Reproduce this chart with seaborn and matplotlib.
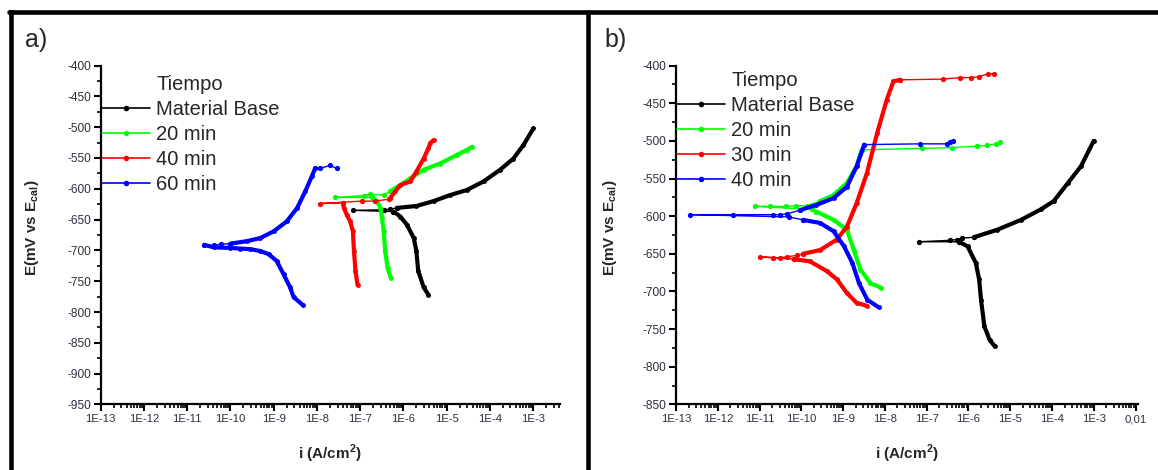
import matplotlib
matplotlib.use("Agg")
import matplotlib.pyplot as plt
import seaborn as sns
from matplotlib.lines import Line2D
from matplotlib.ticker import FixedLocator, FixedFormatter, LogLocator, MultipleLocator, NullFormatter

# ---------------- data ----------------
# Panel a)
a_base_cath_i = [3.8e-6, 2.95e-6, 2.2e-6, 2.0e-6, 1.74e-6, 1.2e-6, 8.5e-7, 5.9e-7]
a_base_cath_E = [-772, -760, -733, -701, -680, -658, -645, -637]
a_base_flat_i = [5.9e-7, 6.8e-8, 3.5e-7, 5.0e-7, 7.1e-7]
a_base_flat_E = [-637, -635, -634, -633, -631]
a_base_anod_i = [7.1e-7, 2.0e-6, 5.0e-6, 1.23e-5, 2.95e-5, 7.2e-5, 1.74e-4, 3.5e-4, 6.0e-4, 1.02e-3]
a_base_anod_E = [-631, -628, -620, -610, -602, -588, -569, -551, -529, -502]

a_20_cath_i = [5.1e-7, 4.3e-7, 3.8e-7, 3.5e-7, 3.2e-7, 2.95e-7, 2.45e-7, 1.86e-7]
a_20_cath_E = [-745, -728, -701, -669, -647, -631, -620, -614]
a_20_flat_i = [1.86e-7, 2.6e-8, 1.2e-7, 1.7e-7, 3.5e-7, 5.0e-7]
a_20_flat_E = [-614, -614, -611, -609, -610, -604]
a_20_anod_i = [5.0e-7, 8.5e-7, 1.45e-6, 2.95e-6, 7.1e-6, 1.74e-5, 2.95e-5, 3.9e-5]
a_20_anod_E = [-604, -594, -583, -569, -559, -545, -537, -532]

a_40_cath_i = [8.7e-8, 7.8e-8, 7.2e-8, 6.8e-8, 5.9e-8, 4.9e-8, 4.2e-8, 4.0e-8]
a_40_cath_E = [-756, -733, -701, -669, -653, -642, -631, -623]
a_40_flat_i = [4.0e-8, 1.15e-8, 1.1e-7, 2.2e-7, 4.6e-7, 5.0e-7]
a_40_flat_E = [-623, -624, -620, -620, -617, -615]
a_40_anod_i = [5.0e-7, 6.5e-7, 8.5e-7, 1.45e-6, 2.0e-6, 2.95e-6, 3.8e-6, 4.2e-6, 5.0e-6]
a_40_anod_E = [-615, -604, -594, -588, -572, -551, -534, -526, -521]

a_60_cath_i = [4.8e-9, 2.9e-9, 2.4e-9, 1.7e-9, 1.17e-9, 7.6e-10, 4.9e-10, 2.9e-10, 1.7e-10, 1.0e-10, 4.1e-11, 2.5e-11]
a_60_cath_E = [-789, -776, -760, -739, -717, -706, -701, -698, -697, -696, -695, -691]
a_60_flat_i = [2.5e-11, 4.1e-11, 6.0e-11, 1.0e-10]
a_60_flat_E = [-691, -692, -690, -689]
a_60_anod_i = [1.0e-10, 2.4e-10, 4.9e-10, 1.0e-9, 2.0e-9, 3.5e-9, 5.4e-9, 7.6e-9, 9.1e-9]
a_60_anod_E = [-689, -685, -680, -669, -653, -631, -604, -580, -567]
a_60_tail_i = [9.1e-9, 1.2e-8, 2.0e-8, 2.9e-8]
a_60_tail_E = [-567, -567, -562, -567]

# Panel b)
b_base_cath_i = [4.3e-6, 3.2e-6, 2.4e-6, 2.0e-6, 1.8e-6, 1.5e-6, 9.5e-7, 5.9e-7]
b_base_cath_E = [-773, -764, -746, -711, -684, -662, -640, -634]
b_base_flat_i = [5.9e-7, 6.5e-8, 3.7e-7, 5.4e-7, 7.1e-7, 1.35e-6]
b_base_flat_E = [-634, -634, -632, -631, -629, -628]
b_base_anod_i = [1.35e-6, 4.9e-6, 1.8e-5, 5.4e-5, 1.1e-4, 2.4e-4, 4.9e-4, 1.0e-3]
b_base_anod_E = [-628, -618, -605, -591, -580, -556, -534, -500]

b_20_cath_i = [8.1e-9, 4.5e-9, 2.6e-9, 1.8e-9, 1.23e-9, 5.9e-10, 2.3e-10]
b_20_cath_E = [-695, -689, -671, -645, -618, -605, -594]
b_20_flat_i = [2.3e-10, 1.8e-10, 7.8e-12, 1.8e-11, 4.4e-11, 7.6e-11, 1.35e-10, 2.8e-10]
b_20_flat_E = [-594, -591, -587, -587, -587, -586, -586, -580]
b_20_anod_i = [2.8e-10, 5.9e-10, 1.23e-9, 2.1e-9, 2.8e-9]
b_20_anod_E = [-580, -572, -556, -534, -512]
b_20_tail_i = [2.8e-9, 7.8e-8, 4.1e-7, 1.6e-6, 2.8e-6, 4.5e-6, 5.6e-6]
b_20_tail_E = [-512, -510, -509, -507, -506, -504, -502]

b_30_cath_i = [3.7e-9, 2.1e-9, 1.23e-9, 7.1e-10, 4.1e-10, 1.6e-10, 6.5e-11]
b_30_cath_E = [-719, -715, -702, -684, -673, -660, -657]
b_30_flat_i = [6.5e-11, 1.0e-11, 2.1e-11, 3.1e-11, 4.5e-11, 7.8e-11, 1.1e-10]
b_30_flat_E = [-657, -654, -655, -655, -654, -652, -650]
b_30_anod_i = [1.1e-10, 2.8e-10, 7.1e-10, 1.23e-9, 2.1e-9, 3.7e-9, 6.5e-9, 1.1e-8, 1.6e-8, 2.3e-8]
b_30_anod_E = [-650, -645, -631, -614, -583, -543, -490, -446, -421, -419]
b_30_tail_i = [2.3e-8, 2.5e-7, 6.3e-7, 1.17e-6, 1.74e-6, 2.95e-6, 4.0e-6]
b_30_tail_E = [-419, -418, -416, -416, -415, -411, -411]

b_40_cath_i = [7.1e-9, 3.8e-9, 2.4e-9, 1.66e-9, 1.05e-9, 5.9e-10, 2.8e-10, 1.1e-10]
b_40_cath_E = [-721, -711, -689, -662, -640, -620, -609, -605]
b_40_flat_i = [1.1e-10, 5.0e-11, 2.2e-13, 2.3e-12, 2.1e-11, 3.0e-11, 4.5e-11, 9.3e-11]
b_40_flat_E = [-605, -601, -598, -598, -598, -598, -597, -592]
b_40_anod_i = [9.3e-11, 2.3e-10, 5.9e-10, 1.23e-9, 2.1e-9, 3.2e-9]
b_40_anod_E = [-592, -585, -576, -561, -534, -505]
b_40_tail_i = [3.2e-9, 6.8e-8, 3.1e-7, 3.7e-7, 4.3e-7]
b_40_tail_E = [-505, -504, -504, -501, -500]

a_labels = ["Material Base", "20 min", "40 min", "60 min"]
b_labels = ["Material Base", "20 min", "30 min", "40 min"]
legend_title = "Tiempo"
a_xticks = [1e-13, 1e-12, 1e-11, 1e-10, 1e-9, 1e-8, 1e-7, 1e-6, 1e-5, 1e-4, 1e-3]
a_xticklabels = ["1E-13", "1E-12", "1E-11", "1E-10", "1E-9", "1E-8", "1E-7", "1E-6", "1E-5", "1E-4", "1E-3"]
b_xticks = a_xticks + [1e-2]
b_xticklabels = a_xticklabels + ["0,01"]

# ---------------- style ----------------
sns.set_theme(style="ticks")
plt.rcParams["font.family"] = ["Liberation Sans", "DejaVu Sans"]
plt.rcParams["mathtext.fontset"] = "custom"
plt.rcParams["mathtext.bf"] = "Liberation Sans:bold"
plt.rcParams["mathtext.rm"] = "Liberation Sans:bold"
plt.rcParams["axes.unicode_minus"] = False

colors = ["#000000", "#00ff00", "#ff0000", "#0000ff"]
tick_color = "#2e2e3e"

fig = plt.figure(figsize=(11.58, 4.70), dpi=100)
ax_a = fig.add_axes([0.0870, 0.1394, 0.3966, 0.7212])
ax_b = fig.add_axes([0.5838, 0.1394, 0.3990, 0.7212])


def draw(ax, i_vals, e_vals, color, dense):
    if dense:
        sns.lineplot(x=i_vals, y=e_vals, ax=ax, sort=False, estimator=None, color=color,
                     linewidth=3.0, marker="o", markersize=3.5, markeredgewidth=0, legend=False)
    else:
        sns.lineplot(x=i_vals, y=e_vals, ax=ax, sort=False, estimator=None, color=color,
                     linewidth=1.0, marker="o", markersize=3.8, markeredgewidth=0, legend=False)


for ax in (ax_a, ax_b):
    ax.set_xscale("log")

a_series = [
    (a_base_cath_i, a_base_cath_E, a_base_flat_i, a_base_flat_E, a_base_anod_i, a_base_anod_E, None, None),
    (a_20_cath_i, a_20_cath_E, a_20_flat_i, a_20_flat_E, a_20_anod_i, a_20_anod_E, None, None),
    (a_40_cath_i, a_40_cath_E, a_40_flat_i, a_40_flat_E, a_40_anod_i, a_40_anod_E, None, None),
    (a_60_cath_i, a_60_cath_E, a_60_flat_i, a_60_flat_E, a_60_anod_i, a_60_anod_E, a_60_tail_i, a_60_tail_E),
]
b_series = [
    (b_base_cath_i, b_base_cath_E, b_base_flat_i, b_base_flat_E, b_base_anod_i, b_base_anod_E, None, None),
    (b_20_cath_i, b_20_cath_E, b_20_flat_i, b_20_flat_E, b_20_anod_i, b_20_anod_E, b_20_tail_i, b_20_tail_E),
    (b_30_cath_i, b_30_cath_E, b_30_flat_i, b_30_flat_E, b_30_anod_i, b_30_anod_E, b_30_tail_i, b_30_tail_E),
    (b_40_cath_i, b_40_cath_E, b_40_flat_i, b_40_flat_E, b_40_anod_i, b_40_anod_E, b_40_tail_i, b_40_tail_E),
]

for ax, series in ((ax_a, a_series), (ax_b, b_series)):
    for (ci, cE, fi, fE, ai, aE, ti, tE), col in zip(series, colors):
        draw(ax, ci, cE, col, True)
        draw(ax, fi, fE, col, False)
        draw(ax, ai, aE, col, True)
        if ti is not None:
            draw(ax, ti, tE, col, False)

# axes formatting
for ax, ylo, xhi, xt, xtl in ((ax_a, -950, 4.2e-3, a_xticks, a_xticklabels),
                              (ax_b, -850, 1.15e-2, b_xticks, b_xticklabels)):
    ax.set_xlim(1e-13, xhi)
    ax.set_ylim(ylo, -400)
    ax.xaxis.set_major_locator(FixedLocator(xt))
    ax.xaxis.set_major_formatter(FixedFormatter(xtl))
    ax.xaxis.set_minor_locator(LogLocator(base=10, subs=[2, 3, 4, 5, 6, 7, 8, 9], numticks=50))
    ax.xaxis.set_minor_formatter(NullFormatter())
    yt = list(range(ylo, -399, 50))
    ax.yaxis.set_major_locator(FixedLocator(yt))
    ax.yaxis.set_major_formatter(FixedFormatter([str(v) for v in yt]))
    ax.yaxis.set_minor_locator(MultipleLocator(25))
    for s in ("top", "right"):
        ax.spines[s].set_visible(False)
    for s in ("left", "bottom"):
        ax.spines[s].set_linewidth(1.6)
        ax.spines[s].set_color("black")
    ax.tick_params(axis="both", which="major", direction="out", length=5, width=1.5,
                   labelcolor=tick_color, color="black", pad=2)
    ax.tick_params(axis="x", which="major", labelsize=8.2)
    ax.tick_params(axis="y", which="major", labelsize=8.6)
    ax.tick_params(axis="both", which="minor", direction="out", length=3, width=1.2, color="black")
    ax.set_xlabel(r"i (A/cm$^{\mathbf{2}}$)", fontsize=11, fontweight="bold", va="top")
    ax.set_ylabel(r"E(mV vs E$_{\mathbf{cal}}$)", fontsize=11, fontweight="bold")
    ax.set_facecolor("white")
    ax.grid(False)

ax_a.yaxis.set_label_coords(-0.130, 0.52)
ax_b.yaxis.set_label_coords(-0.123, 0.52)
ax_a.xaxis.set_label_coords(0.5, -0.112)
ax_b.xaxis.set_label_coords(0.5, -0.112)

# legends
for ax, labels, anchor in ((ax_a, a_labels, (0.003, 0.973)), (ax_b, b_labels, (0.002, 0.985))):
    handles = [Line2D([], [], color="none")]
    handles += [Line2D([], [], color=c, lw=1.2, marker="o", markersize=4, markeredgewidth=0) for c in colors]
    leg = ax.legend(handles, [legend_title] + labels, loc="upper left", bbox_to_anchor=anchor,
                    bbox_transform=ax.transAxes, frameon=False, borderpad=0, borderaxespad=0,
                    handlelength=2.4, handletextpad=0.3, labelspacing=0.3, fontsize=14.5)

# panel letters
fig.text(25 / 1158, 1 - 28 / 470, "a)", fontsize=18, va="top", ha="left")
fig.text(604 / 1158, 1 - 28 / 470, "b)", fontsize=18, va="top", ha="left")

# panel frame lines
lw_frame = 3.3
fig.add_artist(Line2D([11 / 1158, 11 / 1158], [0, 1 - 11.7 / 470], color="black", lw=lw_frame,
                      transform=fig.transFigure, solid_capstyle="projecting"))
fig.add_artist(Line2D([9 / 1158, 1.0], [1 - 11.7 / 470, 1 - 11.7 / 470], color="black", lw=lw_frame,
                      transform=fig.transFigure))
fig.add_artist(Line2D([588.3 / 1158, 588.3 / 1158], [0, 1 - 11.7 / 470], color="black", lw=lw_frame,
                      transform=fig.transFigure))

fig.savefig("out.png", dpi=100, facecolor="white")
